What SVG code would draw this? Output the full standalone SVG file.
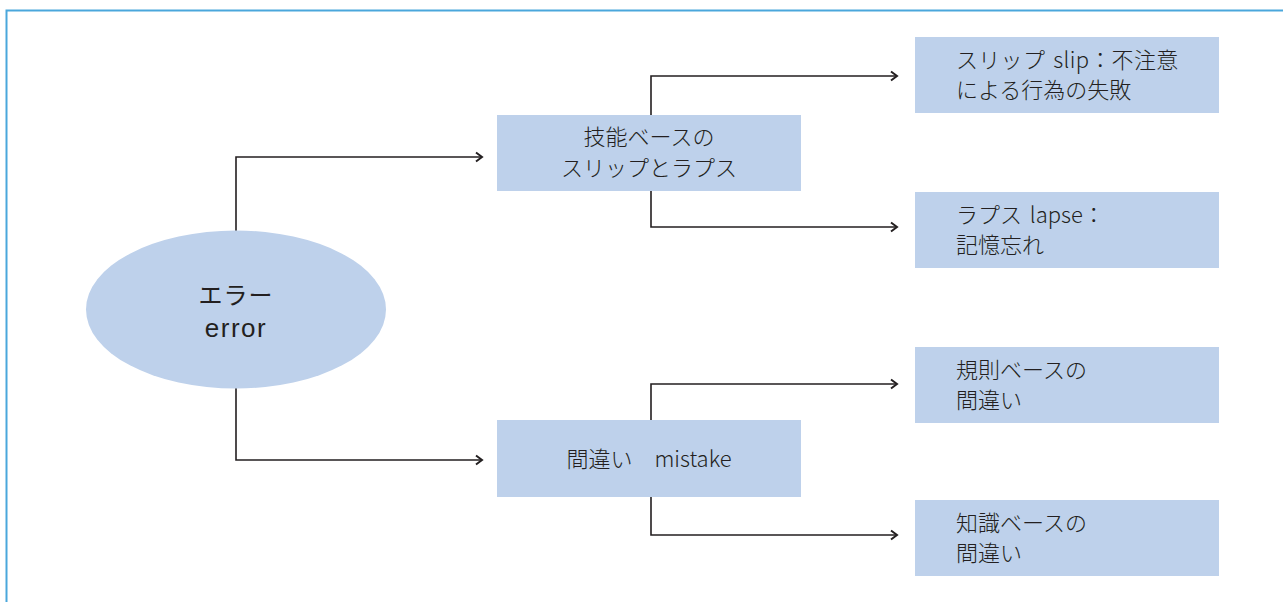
<svg xmlns="http://www.w3.org/2000/svg" width="1283" height="602" viewBox="0 0 1283 602">
<style>
.box{fill:#bed1eb}
.t{font-family:"Noto Sans CJK JP","Noto Sans",sans-serif;font-size:22px;font-weight:300;fill:#231f20}
.c{stroke:#231f20;stroke-width:1.6;fill:none}
</style>
<defs>
<marker id="arr" markerWidth="10" markerHeight="12" refX="8" refY="6" orient="auto" markerUnits="userSpaceOnUse">
<polyline points="2,1.5 8,6 2,10.5" fill="none" stroke="#231f20" stroke-width="2"/>
</marker>
</defs>
<rect width="1283" height="602" fill="#fff"/>
<path d="M6.5 602 V10.5 H1283" fill="none" stroke="#4aa7dc" stroke-width="2"/>
<g id="connectors">
<path class="c" d="M236 231 V157 H482" marker-end="url(#arr)"/>
<path class="c" d="M236 388 V460 H482" marker-end="url(#arr)"/>
<path class="c" d="M651 115 V76 H897" marker-end="url(#arr)"/>
<path class="c" d="M651 191 V227 H897" marker-end="url(#arr)"/>
<path class="c" d="M651 420 V384 H897" marker-end="url(#arr)"/>
<path class="c" d="M651 497 V535 H897" marker-end="url(#arr)"/>
</g>
<g id="error">
<ellipse cx="236" cy="309.5" rx="150" ry="79" class="box"/>
<text x="236" y="304" text-anchor="middle" font-family="'Noto Sans CJK JP',sans-serif" font-size="24" font-weight="400" fill="#231f20" letter-spacing="1">エラー</text>
<text x="236" y="337" text-anchor="middle" font-family="'Liberation Sans',sans-serif" font-size="26" fill="#231f20" letter-spacing="1.5">error</text>
</g>
<g id="skill">
<rect class="box" x="497" y="115" width="304" height="76"/>
<text class="t" x="649" y="145" text-anchor="middle">技能ベースの</text>
<text class="t" x="649" y="176" text-anchor="middle">スリップとラプス</text>
</g>
<g id="mistake">
<rect class="box" x="497" y="420" width="304" height="77"/>
<text class="t" x="649" y="467" text-anchor="middle">間違い　mistake</text>
</g>
<g id="slip">
<rect class="box" x="915" y="37" width="304" height="76"/>
<text class="t" x="956" y="68" word-spacing="3" letter-spacing="0.3">スリップ slip：不注意</text>
<text class="t" x="956" y="98">による行為の失敗</text>
</g>
<g id="lapse">
<rect class="box" x="915" y="192" width="304" height="76"/>
<text class="t" x="956" y="223" word-spacing="3">ラプス lapse：</text>
<text class="t" x="956" y="253">記憶忘れ</text>
</g>
<g id="rule">
<rect class="box" x="915" y="347" width="304" height="76"/>
<text class="t" x="956" y="378">規則ベースの</text>
<text class="t" x="956" y="408">間違い</text>
</g>
<g id="knowledge">
<rect class="box" x="915" y="500" width="304" height="76"/>
<text class="t" x="956" y="531">知識ベースの</text>
<text class="t" x="956" y="561">間違い</text>
</g>
</svg>
